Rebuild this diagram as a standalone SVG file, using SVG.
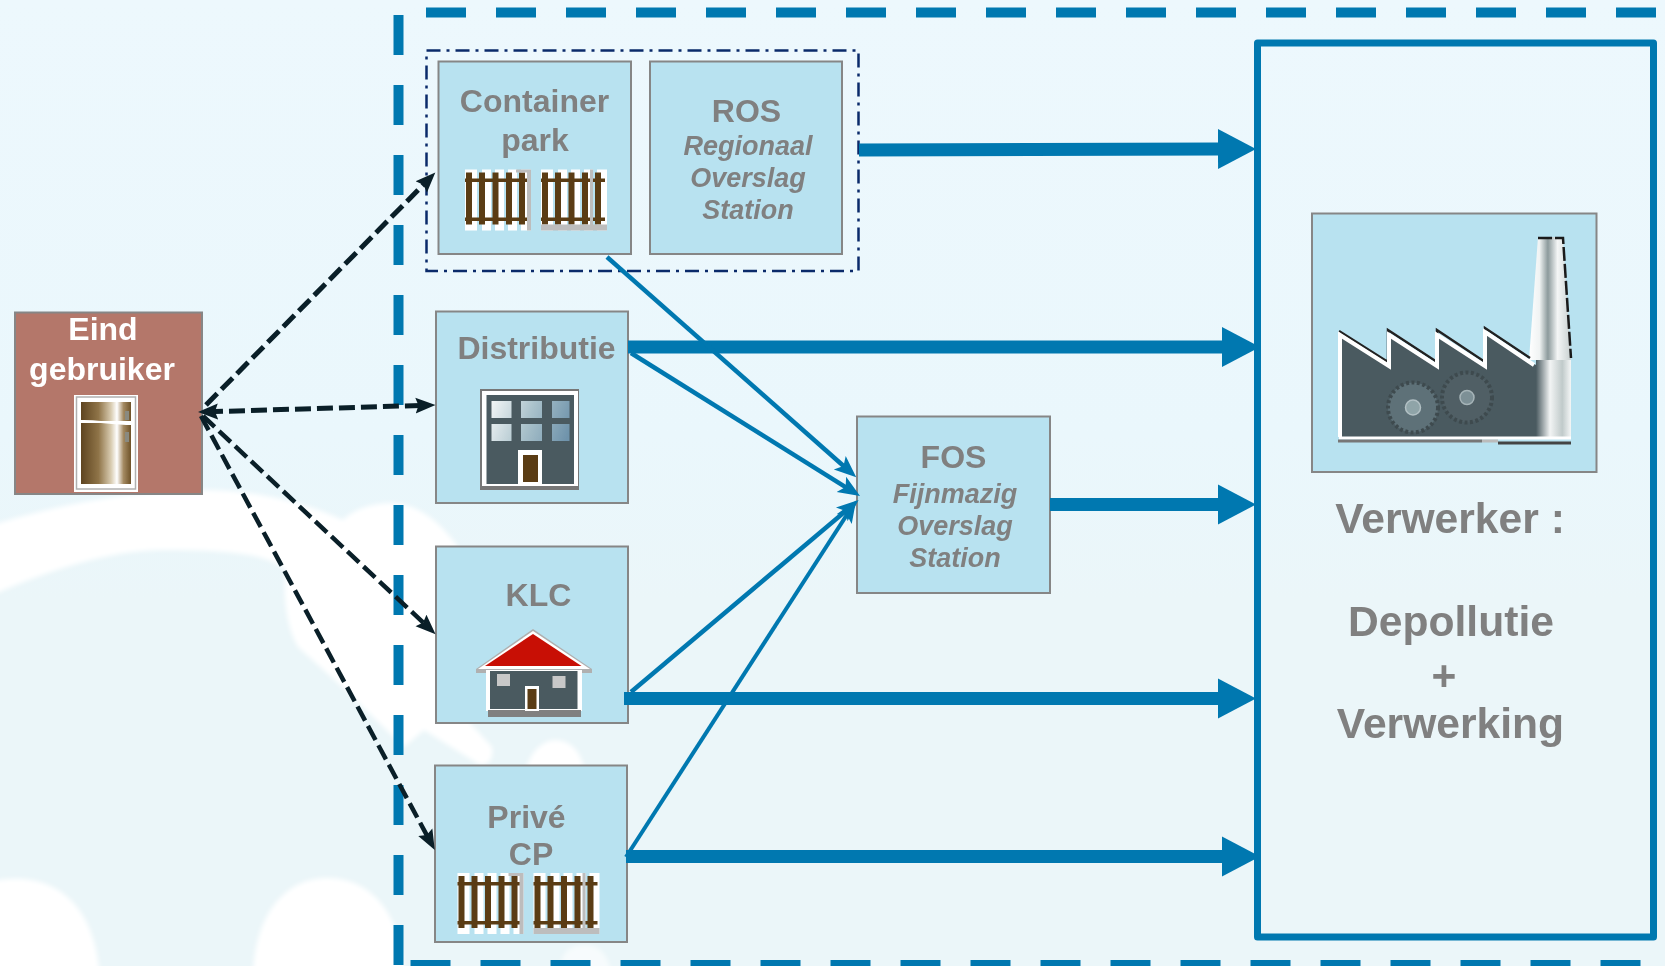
<svg xmlns="http://www.w3.org/2000/svg" width="1665" height="966" viewBox="0 0 1665 966">
<style>
.box{fill:#b8e2f0;stroke:#868686;stroke-width:2}
.t{font-family:"Liberation Sans",Arial,sans-serif;font-weight:700;fill:#808080;text-anchor:middle;font-size:32px}
.i{font-style:italic;font-size:27px}
.b{font-size:42.6px}
.w{fill:#fff;font-size:32px}
.frame{stroke:#0078b0;stroke-width:10;stroke-dasharray:40 30;fill:none}
.thick{stroke:#0078b0;stroke-width:13;fill:none;marker-end:url(#hThick)}
.thin{stroke:#0078b0;stroke-width:4.500;fill:none;marker-end:url(#hThin)}
.dash{stroke:#0a1f28;stroke-width:5;stroke-dasharray:16 6;fill:none;marker-end:url(#hDark)}
.dk{fill:#4a5a60}
.pk{fill:#5a3c14}
</style>
<defs>
<filter id="soft" x="-5%" y="-5%" width="110%" height="110%"><feGaussianBlur stdDeviation="2.500"/></filter>
<linearGradient id="bg" x1="0" y1="0" x2="0" y2="1"><stop offset="0" stop-color="#edf8fd"/><stop offset=".45" stop-color="#eaf7fc"/><stop offset=".62" stop-color="#ebf6f9"/><stop offset="1" stop-color="#ebf6f9"/></linearGradient>
<linearGradient id="fr"><stop offset="0" stop-color="#5e4420"/><stop offset=".35" stop-color="#8f7448"/><stop offset=".6" stop-color="#d8cbb0"/><stop offset=".72" stop-color="#fff"/><stop offset=".85" stop-color="#a48a62"/><stop offset="1" stop-color="#6e5228"/></linearGradient>
<linearGradient id="win" gradientUnits="userSpaceOnUse" x1="490" y1="400" x2="570" y2="430"><stop offset="0" stop-color="#f6f8f8"/><stop offset=".5" stop-color="#aac2cb"/><stop offset="1" stop-color="#6f93ab"/></linearGradient>
<linearGradient id="chim"><stop offset="0" stop-color="#fff"/><stop offset=".25" stop-color="#f0f3f3"/><stop offset=".45" stop-color="#8c9a9c"/><stop offset=".68" stop-color="#f4f6f6"/><stop offset="1" stop-color="#c8d0d0"/></linearGradient>
<linearGradient id="chimB"><stop offset="0" stop-color="#4a5a60"/><stop offset=".4" stop-color="#f2f4f4"/><stop offset=".75" stop-color="#c0caca"/><stop offset="1" stop-color="#f4f6f6"/></linearGradient>
<marker id="hThick" markerUnits="userSpaceOnUse" markerWidth="40" markerHeight="42" refX="1" refY="21" orient="auto"><path d="M0,1 L38,21 L0,41 Z" fill="#0078b0"/></marker>
<marker id="hThin" markerUnits="userSpaceOnUse" markerWidth="24" markerHeight="22" refX="13" refY="11" orient="auto"><path d="M0,2 L22,11 L0,20 L5,11 Z" fill="#0078b0"/></marker>
<marker id="hDark" markerUnits="userSpaceOnUse" markerWidth="22" markerHeight="20" refX="11" refY="10" orient="auto-start-reverse"><path d="M0,2 L20,10 L0,18 L3,10 Z" fill="#0a1f28"/></marker>
<g id="picket">
<path fill="#fff" d="M0,0h12v61h-12zM17,0h9v61h-9zM30,0h9v61h-9zM43,0h9v61h-9zM56,0h10v61h-10z"/>
<path class="pk" d="M1,3h6v52h-6zM14,3h6v52h-6zM27.500,3h6v52h-6zM41,3h6v52h-6zM54,3h6v52h-6zM0,9h64v3.500h-64zM0,48h64v3.500h-64z"/>
</g>
<g id="fenceA"><use href="#picket"/><path fill="#bdbdbd" d="M51,0h15v3h-15zM62,3h4v58h-4z"/></g>
<g id="fenceB"><use href="#picket"/><path fill="#bdbdbd" d="M0,55h66v6h-66zM49,0h3v61h-3z"/></g>
</defs>

<g id="background">
<rect width="1665" height="966" fill="url(#bg)"/>
<g filter="url(#soft)" fill="#fff">
<path d="M-10,526 C60,503 140,490 204,490 C260,490 310,505 343,520 C355,508 375,503 392,503 C425,505 445,530 457,545 L470,600 L470,723 L492,747 C494,760 488,765 480,765 L424,730 L404,747 L338,683 L298,647 C285,625 283,590 286,570 C270,556 240,550 163,550 C110,550 50,570 -10,596 Z"/>
<path d="M-10,980 V882 C40,870 95,890 100,980 Z"/>
<path d="M253,980 C253,915 285,878 327,878 C375,878 404,920 404,980 Z"/>
<path d="M526,770 C530,750 545,740 555,740 C570,740 582,752 584,770 Z"/>
<path opacity=".6" d="M558,980 C560,950 570,945 585,945 C600,945 610,955 612,980 Z"/>
</g>
</g>

<g id="frame">
<path class="frame" d="M398.500,15 V966"/>
<path class="frame" d="M426,12.500 H1665"/>
<path class="frame" d="M410.500,965 H1665"/>
</g>

<g id="group-dashdot">
<rect x="426.500" y="50.500" width="432" height="220.500" fill="none" stroke="#0a2a6a" stroke-width="2.500" stroke-dasharray="14 6 3 6"/>
</g>

<g id="eindgebruiker">
<rect x="15" y="312.500" width="187" height="181.500" fill="#b4776a" stroke="#868686" stroke-width="2"/>
<text class="t w" x="103" y="340">Eind</text>
<text class="t w" x="102" y="380">gebruiker</text>
<rect x="74" y="395" width="64" height="97" fill="#fff"/>
<rect x="76.500" y="397" width="59" height="92" fill="none" stroke="#b0b0b0" stroke-width="1.500"/>
<rect x="81" y="402" width="50" height="19" fill="url(#fr)"/>
<rect x="81" y="423" width="50" height="61" fill="url(#fr)"/>
<path d="M80,421 C95,420 110,424 132,424" stroke="#fff" stroke-width="2" fill="none"/>
<rect x="125" y="411" width="4" height="9" fill="#8a8a80"/>
<rect x="125" y="432" width="4" height="10" fill="#8a8a80"/>
</g>

<g id="containerpark">
<rect class="box" x="438.500" y="61.500" width="192.500" height="192.500"/>
<text class="t" x="534.500" y="112">Container</text>
<text class="t" x="535" y="151">park</text>
<use href="#fenceA" x="465" y="169.500"/>
<use href="#fenceB" x="541" y="169.500"/>
</g>

<g id="ros">
<rect class="box" x="650" y="61.500" width="192" height="192.500"/>
<text class="t" x="746.500" y="122">ROS</text>
<text class="t i" x="748" y="155">Regionaal</text>
<text class="t i" x="748" y="187">Overslag</text>
<text class="t i" x="748" y="219">Station</text>
</g>

<g id="distributie">
<rect class="box" x="436" y="311.500" width="192" height="191.500"/>
<text class="t" x="536.500" y="359">Distributie</text>
<rect x="480" y="389" width="99" height="101" fill="#777"/>
<rect x="482" y="391" width="96" height="95" fill="#fff"/>
<rect class="dk" x="486.500" y="395" width="87.500" height="89"/>
<path fill="url(#win)" d="M491.500,401h20v17h-20zM521,401h21v17h-21zM552,401h17.500v17h-17.500zM491.500,424h20v17h-20zM521,424h21v17h-21zM552,424h17.500v17h-17.500z"/>
<rect x="518" y="450" width="24" height="34" fill="#fff"/>
<rect x="523" y="455" width="15" height="27" class="pk"/>
</g>

<g id="klc">
<rect class="box" x="436" y="546.500" width="192" height="176.500"/>
<text class="t" x="538.500" y="606">KLC</text>
<path d="M533,629 L592,669 L592,673 L476,673 L476,669 Z" fill="#b0b0b0"/>
<path d="M533,631 L590,669 L478,669 Z" fill="#fff"/>
<path d="M533,634 L581.500,666 L485,666 Z" fill="#c80f05"/>
<rect x="486" y="670" width="96" height="41" fill="#fff"/>
<rect class="dk" x="490" y="671" width="87.500" height="38"/>
<rect x="488" y="710" width="93" height="7" fill="#808080"/>
<rect x="497" y="674" width="13" height="12" fill="#c8c8c8"/>
<rect x="552.500" y="676" width="13" height="12" fill="#c8c8c8"/>
<rect x="525" y="686" width="14" height="25" fill="#fff"/>
<rect x="527.500" y="689" width="9" height="20" class="pk"/>
</g>

<g id="privecp">
<rect class="box" x="435" y="765.500" width="192" height="176.500"/>
<text class="t" x="526.500" y="828">Privé</text>
<text class="t" x="531" y="865">CP</text>
<use href="#fenceA" x="457.500" y="873"/>
<use href="#fenceB" x="533.500" y="873"/>
</g>

<g id="fos">
<rect class="box" x="857" y="416.500" width="193" height="176.500"/>
<text class="t" x="953.500" y="468">FOS</text>
<text class="t i" x="955" y="503">Fijnmazig</text>
<text class="t i" x="955" y="535">Overslag</text>
<text class="t i" x="955" y="567">Station</text>
</g>

<g id="verwerker">
<rect x="1257.500" y="43" width="396" height="894" fill="none" stroke="#0078b0" stroke-width="7" stroke-linejoin="round"/>
<rect class="box" x="1312" y="213.500" width="284.500" height="258.500"/>
<path d="M1538,237 H1563 L1571,360 H1529 Z" fill="url(#chim)"/>
<path d="M1538,238 H1563 L1571,358" fill="none" stroke="#1a1a1a" stroke-width="2.500" stroke-dasharray="14 3"/>
<path class="dk" d="M1339,335 L1388,367 V335 L1437,367 V335 L1485,367 V333 L1536,365 V438 H1339 Z"/>
<rect x="1536" y="360" width="35" height="78" fill="url(#chimB)"/>
<path d="M1339,331 L1388,362 V330 L1437,362 V330 L1485,362 V328 L1530,358" fill="none" stroke="#222" stroke-width="2.500"/>
<path d="M1340,437 V335 L1389,366 V335 L1437,366 V335 L1485,366 V332 L1534,365" fill="none" stroke="#fff" stroke-width="4"/>
<path d="M1339,438 H1571" stroke="#fff" stroke-width="3" fill="none"/>
<path d="M1338,441 H1482" stroke="#777" stroke-width="3"/>
<path d="M1482,441 H1498" stroke="#bbb" stroke-width="3"/>
<path d="M1498,443 H1571" stroke="#444" stroke-width="3"/>
<circle cx="1413" cy="407.500" r="25" fill="#5e7178" stroke="#3e4a4e" stroke-width="4" stroke-dasharray="3 2.500"/>
<circle cx="1413" cy="407.500" r="7.500" fill="#8fa4a8" stroke="#b2c0c4" stroke-width="1.500"/>
<circle cx="1467" cy="397.500" r="25" fill="#505f65" stroke="#3e4a4e" stroke-width="4" stroke-dasharray="3 2.500"/>
<circle cx="1467" cy="397.500" r="7" fill="#7d9096" stroke="#a6b4b8" stroke-width="1.500"/>
<text class="t b" x="1450" y="533">Verwerker :</text>
<text class="t b" x="1451" y="636">Depollutie</text>
<text class="t b" x="1444" y="690">+</text>
<text class="t b" x="1450.500" y="738">Verwerking</text>
</g>

<g id="connectors">
<line class="thick" x1="859" y1="150" x2="1219" y2="149"/>
<line class="thick" x1="628" y1="347" x2="1223" y2="347"/>
<line class="thick" x1="1050" y1="504.500" x2="1219" y2="504.500"/>
<line class="thick" x1="624" y1="698.500" x2="1219" y2="698.500"/>
<line class="thick" x1="626" y1="856.500" x2="1223" y2="856.500"/>
<line class="thin" x1="607" y1="257" x2="849.500" y2="471.300"/>
<line class="thin" x1="631" y1="353" x2="852.400" y2="491.300"/>
<line class="thin" x1="631" y1="692" x2="851.700" y2="505.900"/>
<line class="thin" style="stroke-width:4" x1="626" y1="857" x2="851.200" y2="508.100"/>
<line class="dash" x1="206" y1="405" x2="429" y2="179"/>
<line class="dash" style="marker-start:url(#hDark)" x1="207" y1="411.800" x2="426.500" y2="405.300"/>
<line class="dash" style="stroke-width:4.500" x1="203" y1="416" x2="429" y2="628"/>
<line class="dash" style="stroke-width:4.500" x1="201" y1="416" x2="430.500" y2="842"/>
</g>
</svg>
